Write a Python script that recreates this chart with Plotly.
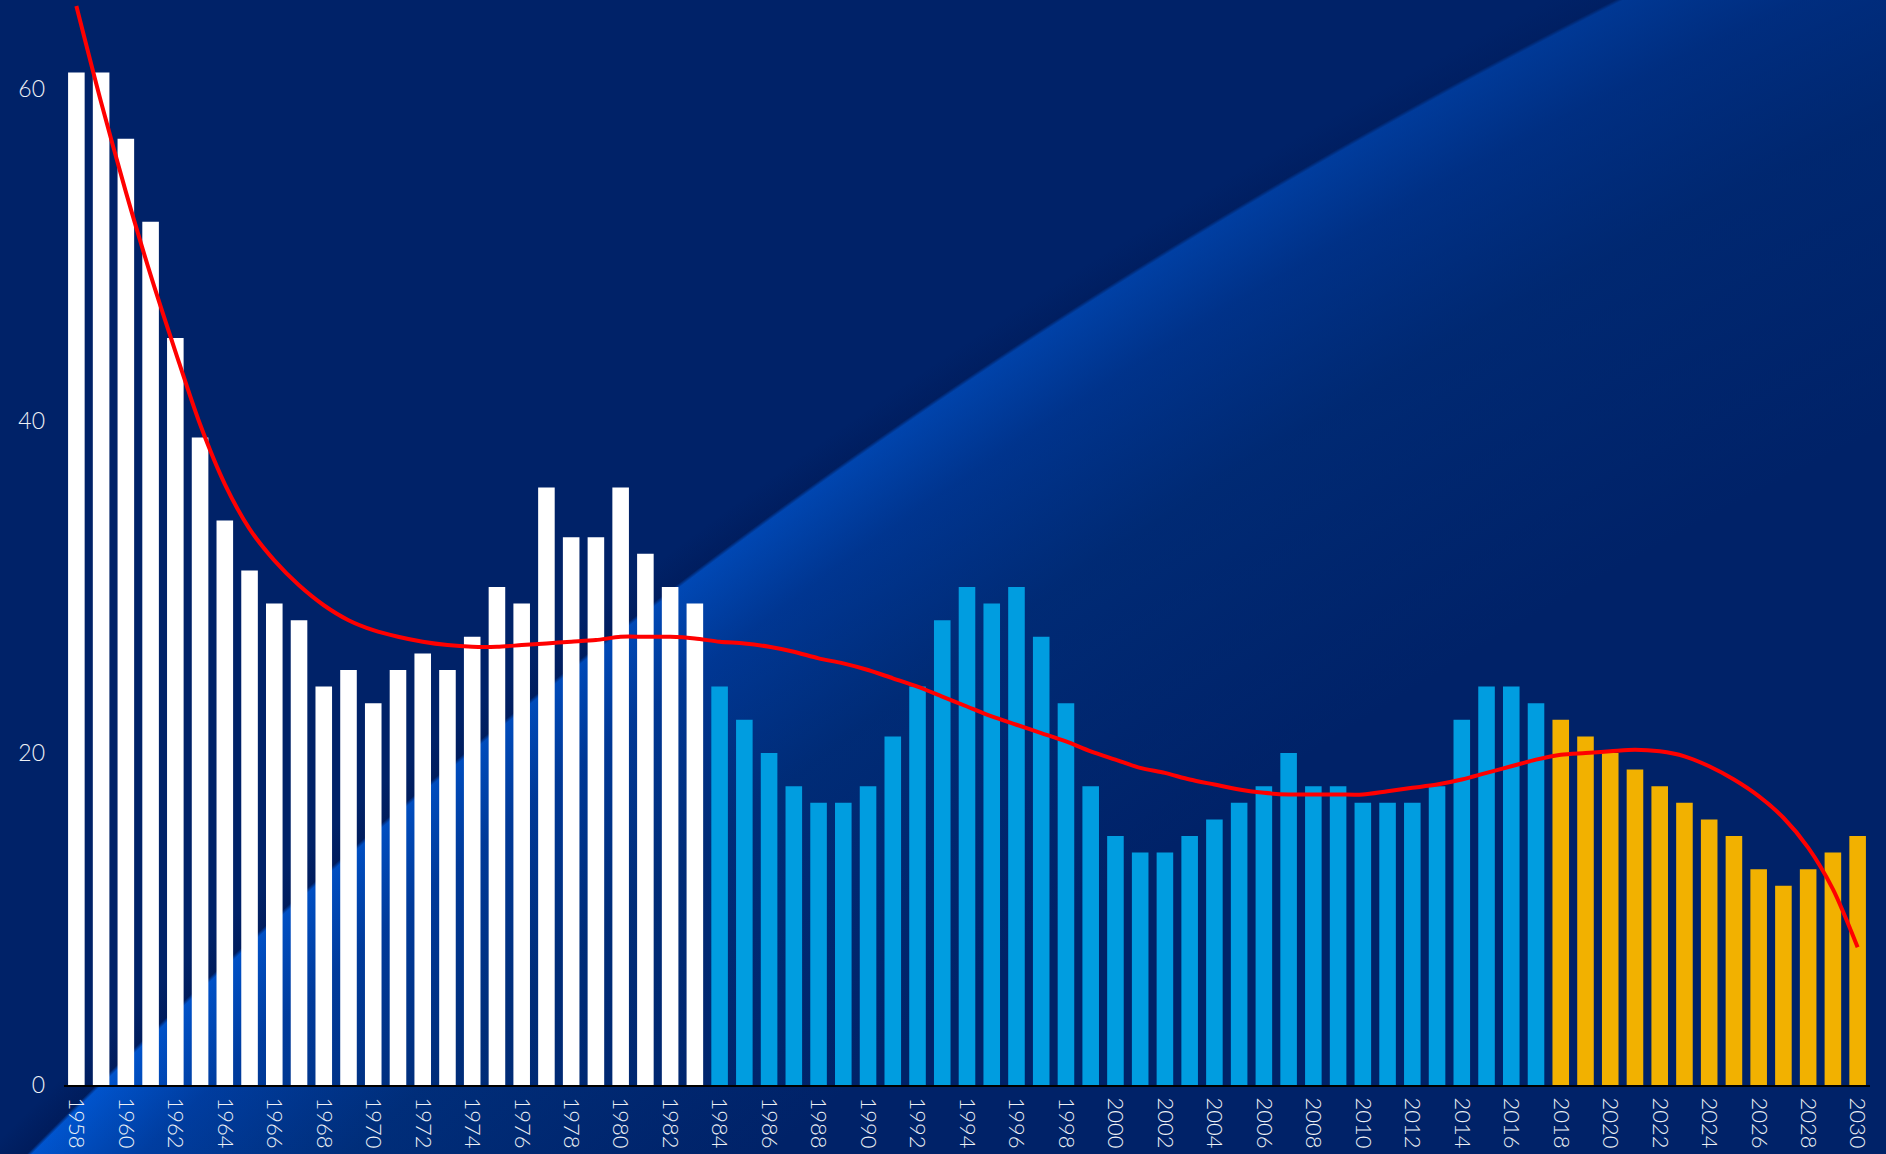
import base64
import plotly.graph_objects as go

# bar data, one value per year
years_white = list(range(1958, 1984))
values_white = [61, 61, 57, 52, 45, 39, 34, 31, 29, 28, 24, 25, 23, 25, 26, 25,
                27, 30, 29, 36, 33, 33, 36, 32, 30, 29]

years_blue = list(range(1984, 2018))
values_blue = [24, 22, 20, 18, 17, 17, 18, 21, 24, 28, 30, 29, 30, 27, 23, 18,
               15, 14, 14, 15, 16, 17, 18, 20, 18, 18, 17, 17, 17, 18, 22, 24,
               24, 23]

years_gold = list(range(2018, 2031))
values_gold = [22, 21, 20, 19, 18, 17, 16, 15, 13, 12, 13, 14, 15]

# red trend line
trend_years = list(range(1958, 2031))
trend_values = [65, 59.2, 53.8, 48.8, 44.2, 39.8, 36.2, 33.5, 31.6, 30.1, 28.9,
                28.0, 27.4, 27.0, 26.7, 26.5, 26.4, 26.4, 26.5, 26.6, 26.7, 26.8,
                27.0, 27.0, 27.0, 26.9, 26.7, 26.6, 26.4, 26.1, 25.7, 25.4, 25.0,
                24.5, 24.0, 23.4, 22.8, 22.2, 21.7, 21.2, 20.7, 20.1, 19.6, 19.1,
                18.8, 18.4, 18.1, 17.8, 17.6, 17.5, 17.5, 17.5, 17.5, 17.7, 17.9,
                18.1, 18.4, 18.8, 19.2, 19.6, 19.9, 20.0, 20.1, 20.2, 20.1, 19.8,
                19.2, 18.4, 17.4, 16.1, 14.3, 11.8, 8.3]

x_ticks = list(range(1958, 2031, 2))
y_ticks = [0, 20, 40, 60]

WIDTH, HEIGHT = 1886, 1154
ML, MR, MT, MB = 64, 16, 0, 69
NAVY = "#002268"

# background: navy with a curved light-blue sweep (svg gradient used as layout image)
svg = f"""<svg xmlns="http://www.w3.org/2000/svg" width="{WIDTH}" height="{HEIGHT}" viewBox="0 0 {WIDTH} {HEIGHT}" preserveAspectRatio="none">
<defs>
<radialGradient id="g" gradientUnits="userSpaceOnUse" cx="4350" cy="5434" r="6200">
<stop offset="0" stop-color="{NAVY}"/>
<stop offset="0.900" stop-color="{NAVY}"/>
<stop offset="0.945" stop-color="#002f7c"/>
<stop offset="0.968" stop-color="#003ea2"/>
<stop offset="0.9806" stop-color="#0055cf"/>
<stop offset="0.9812" stop-color="#001c5c"/>
<stop offset="0.986" stop-color="{NAVY}"/>
<stop offset="1" stop-color="{NAVY}"/>
</radialGradient>
<linearGradient id="f" gradientUnits="userSpaceOnUse" x1="0" y1="{HEIGHT}" x2="1700" y2="0">
<stop offset="0" stop-color="{NAVY}" stop-opacity="0"/>
<stop offset="1" stop-color="{NAVY}" stop-opacity="0.6"/>
</linearGradient>
</defs>
<rect width="{WIDTH}" height="{HEIGHT}" fill="url(#g)"/>
<rect width="{WIDTH}" height="{HEIGHT}" fill="url(#f)"/>
</svg>"""
bg_src = "data:image/svg+xml;base64," + base64.b64encode(svg.encode()).decode()

fig = go.Figure()

for xs, ys, col in [(years_white, values_white, "#ffffff"),
                    (years_blue, values_blue, "#009de0"),
                    (years_gold, values_gold, "#f2b100")]:
    fig.add_trace(go.Bar(x=xs, y=ys, marker_color=col, marker_line_width=0,
                         showlegend=False))

fig.add_trace(go.Scatter(x=trend_years, y=trend_values, mode="lines",
                         line=dict(color="#ff0000", width=4, shape="spline", smoothing=0.8),
                         showlegend=False, cliponaxis=False))

pw = WIDTH - ML - MR
ph = HEIGHT - MT - MB
fig.add_layout_image(dict(source=bg_src, xref="paper", yref="paper",
                          x=-ML / pw, y=1 + MT / ph, sizex=WIDTH / pw, sizey=HEIGHT / ph,
                          xanchor="left", yanchor="top", sizing="stretch",
                          layer="below"))

font_family = "Lato, 'Open Sans', sans-serif"
label_color = "#eef1f6"

fig.update_layout(
    width=WIDTH, height=HEIGHT,
    margin=dict(l=ML, r=MR, t=MT, b=MB),
    paper_bgcolor=NAVY, plot_bgcolor="rgba(0,0,0,0)",
    barmode="overlay", bargap=0.33,
    xaxis=dict(range=[1957.5, 2030.5], tickvals=x_ticks, tickangle=90,
               tickfont=dict(family=font_family, size=22, color=label_color, weight=300),
               showgrid=False, zeroline=False,
               showline=True, linecolor="#000000", linewidth=2,
               ticks="", ticklabelstandoff=6),
    yaxis=dict(range=[0, 65.36], tickvals=y_ticks,
               tickfont=dict(family=font_family, size=23, color=label_color, weight=300),
               showgrid=False, zeroline=False, showline=False,
               ticks="", ticklabelstandoff=18),
)

# page body has a default margin; drop it so the figure fills the window
fig.write_html("out.html", config={"displayModeBar": False},
               post_script="document.body.style.margin='0';document.body.style.overflow='hidden';")
